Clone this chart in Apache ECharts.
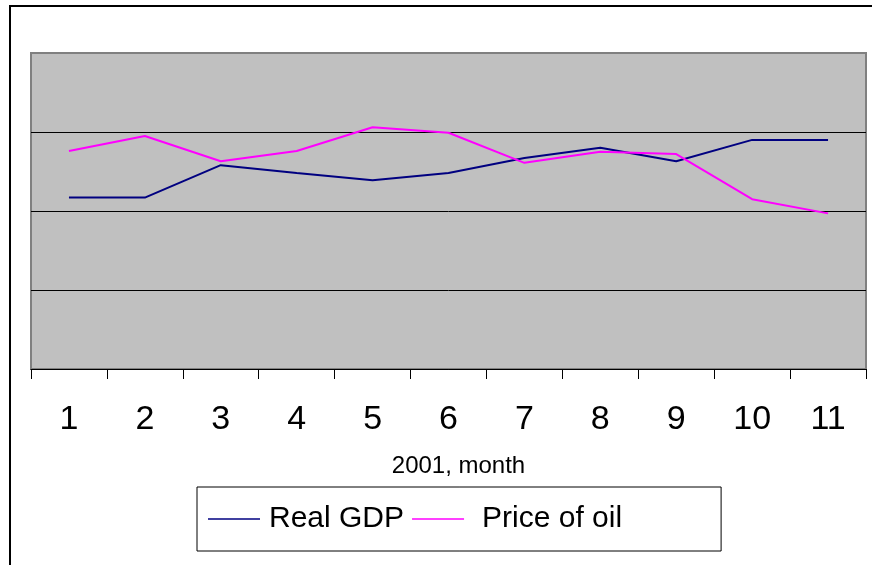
<!DOCTYPE html>
<html>
<head>
<meta charset="utf-8">
<script src="https://cdn.jsdelivr.net/npm/echarts@6/dist/echarts.min.js"></script>
<style>
  html, body { margin: 0; padding: 0; background: #fff; }
  #chart { width: 872px; height: 565px; }
</style>
</head>
<body>
<div id="chart"></div>
<script>
// 月份
var months = ['1', '2', '3', '4', '5', '6', '7', '8', '9', '10', '11']
// 数据（无刻度标签，按网格单位估读）
var realGdp = [2.17, 2.17, 2.58, 2.48, 2.39, 2.48, 2.67, 2.80, 2.63, 2.90, 2.90]
var oilPrice = [2.76, 2.95, 2.63, 2.76, 3.06, 2.99, 2.61, 2.75, 2.72, 2.15, 1.97]

var font = '"Liberation Sans", Arial, sans-serif'
var chart = echarts.init(document.getElementById('chart'))

chart.setOption({
  animation: false,
  backgroundColor: '#fff',
  // 外框（右、下边在画面外）
  graphic: [{
    type: 'rect',
    shape: { x: 10, y: 6, width: 1000, height: 700 },
    style: { fill: 'none', stroke: '#000', lineWidth: 2 },
    silent: true
  }],
  grid: {
    left: 31,
    right: 6,
    top: 53,
    bottom: 196,
    show: true,
    backgroundColor: '#C0C0C0',
    borderColor: '#808080',
    borderWidth: 2
  },
  legend: {
    left: 197,
    top: 487,
    padding: [17, 99, 17, 11],
    borderColor: '#000',
    borderWidth: 1,
    backgroundColor: '#fff',
    icon: 'rect',
    itemWidth: 52,
    itemHeight: 1.5,
    itemGap: 8,
    textStyle: { fontFamily: font, fontSize: 30, color: '#000' },
    data: [
      { name: 'Real GDP', textStyle: { padding: [0, 0, 0, 4] } },
      { name: 'Price of oil', textStyle: { padding: [0, 0, 0, 13] } }
    ]
  },
  xAxis: {
    type: 'category',
    data: months,
    boundaryGap: true,
    name: '2001, month',
    nameLocation: 'middle',
    nameGap: 85,
    nameTextStyle: { fontFamily: font, fontSize: 24, color: '#000', padding: [0, 0, 0, 20] },
    axisLine: { lineStyle: { color: '#000', width: 1 } },
    axisTick: { show: true, length: 10, lineStyle: { color: '#000' } },
    axisLabel: { fontFamily: font, fontSize: 34, color: '#000', margin: 34 },
    splitLine: { show: false }
  },
  yAxis: {
    type: 'value',
    min: 0,
    max: 4,
    interval: 1,
    axisLine: { show: false },
    axisTick: { show: false },
    axisLabel: { show: false },
    splitLine: {
      show: true,
      lineStyle: { color: ['#000', '#000', '#000', '#000', '#808080'], width: 1 }
    }
  },
  series: [
    {
      name: 'Real GDP',
      type: 'line',
      data: realGdp,
      symbol: 'none',
      color: '#000080',
      lineStyle: { color: '#000080', width: 2 }
    },
    {
      name: 'Price of oil',
      type: 'line',
      data: oilPrice,
      symbol: 'none',
      color: '#FF00FF',
      lineStyle: { color: '#FF00FF', width: 2 }
    }
  ]
})
</script>
</body>
</html>
